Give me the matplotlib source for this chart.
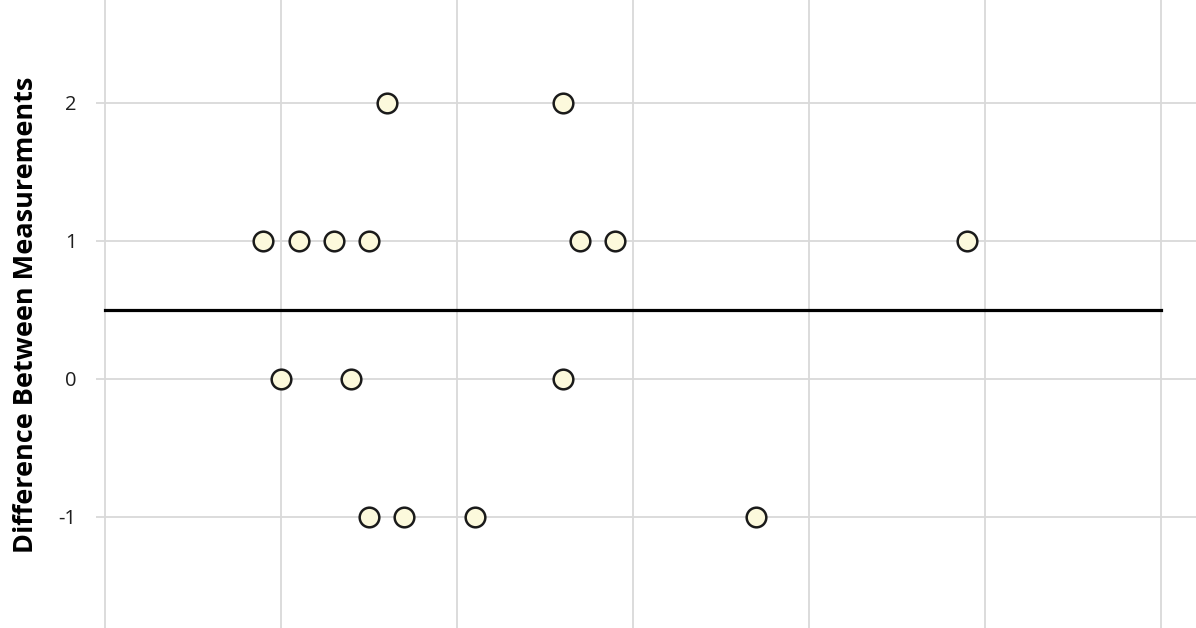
import matplotlib.pyplot as plt

plt.rcParams['axes.unicode_minus'] = False

# mean of the two measurements (x) and their difference (y)
mean_vals = [8, 13,
             4.5, 5.5, 6.5, 7.5, 13.5, 14.5, 24.5,
             5, 7, 13,
             7.5, 8.5, 10.5, 18.5]
diff_vals = [2, 2,
             1, 1, 1, 1, 1, 1, 1,
             0, 0, 0,
             -1, -1, -1, -1]
bias = 0.5
bias_span = [0, 30]
y_ticks = [-1, 0, 1, 2]
x_grid = [0, 5, 10, 15, 20, 25, 30]

W, H = 1196, 628
fig = plt.figure(figsize=(W / 100, H / 100), dpi=100)
left_px = 96
ax = fig.add_axes([left_px / W, 0, 1 - left_px / W, 1])

px_per_x = 35.2
ax.set_xlim((left_px - 105) / px_per_x, (W - 105) / px_per_x)
px_per_y = 138
ax.set_ylim(-1 - (H - 517) / px_per_y, 2 + 103 / px_per_y)

ax.set_xticks(x_grid)
ax.set_yticks(y_ticks)
ax.grid(True, color='#d9d9d9', linewidth=1.3)
ax.set_axisbelow(True)
for s in ax.spines.values():
    s.set_visible(False)

ax.tick_params(axis='x', length=0, labelbottom=False)
ax.tick_params(axis='y', length=0, pad=14, labelsize=14.5, labelcolor='#1e1e1e')
for lab in ax.get_yticklabels():
    lab.set_family('Open Sans')

ax.plot(bias_span, [bias, bias], color='black', linewidth=2.3, zorder=2)
ax.scatter(mean_vals, diff_vals, s=200, facecolor='#fcf9dc', edgecolor='#1a1a1a',
           linewidth=1.8, zorder=3)

ax.set_ylabel('Difference Between Measurements', fontsize=19.5, fontweight='bold',
              family='Open Sans', color='black')
ax.yaxis.set_label_coords((39 - left_px) / (W - left_px), 1 - 315 / H)

fig.savefig('out.png', dpi=100)
